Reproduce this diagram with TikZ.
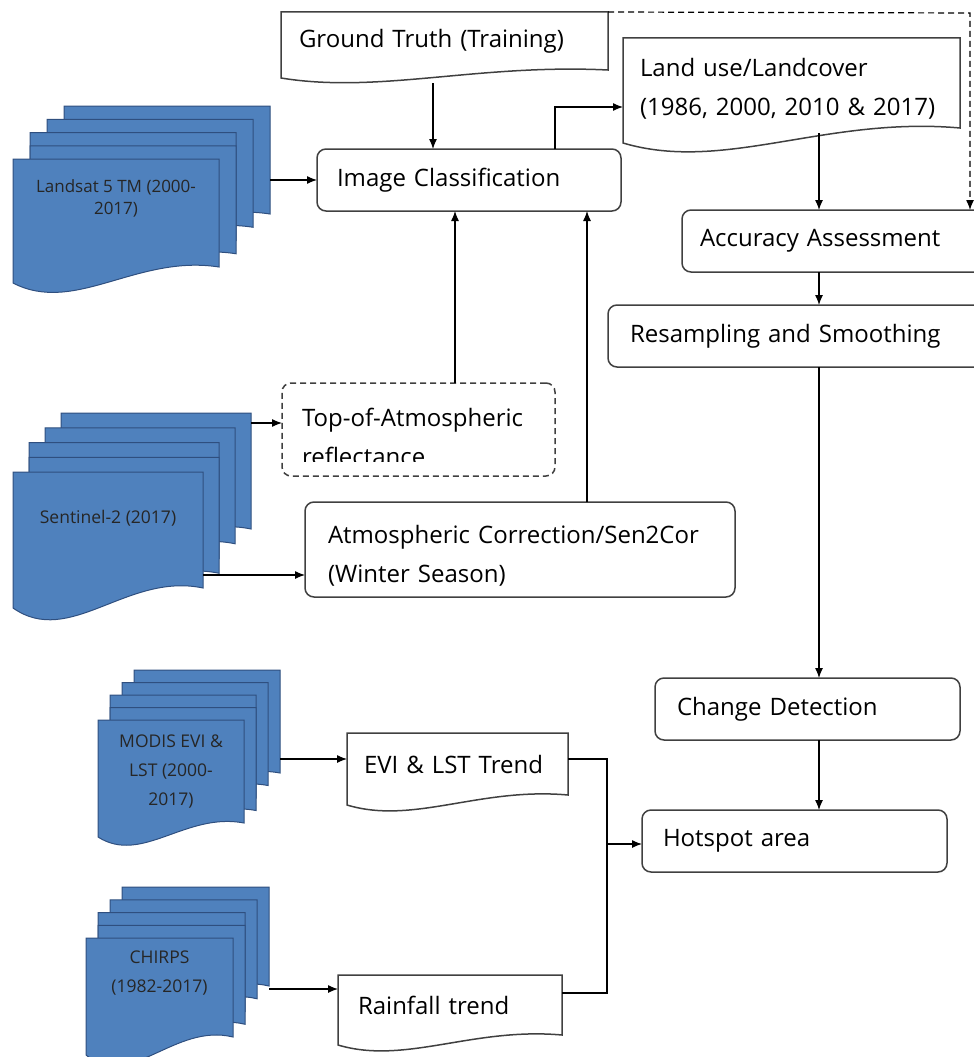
\documentclass[tikz,border=0pt]{standalone}
\usepackage{fontspec}
\setmainfont{Open Sans}
\usetikzlibrary{arrows.meta,calc}

\definecolor{sheetblue}{HTML}{4F81BD}
\definecolor{sheetedge}{HTML}{2F4F7F}
\definecolor{boxline}{HTML}{404040}

% outline of a document shape round a node: #2 node, #3 dip of the wavy bottom
\newcommand{\docshape}[3][]{%
  \draw[#1] (#2.north west) -- (#2.north east) -- (#2.south east)
    .. controls ($(#2.south west)!0.6!(#2.south east)+(0,-0.8*#3)$)
    and ($(#2.south west)!0.3!(#2.south east)+(0,3*#3)$)
    .. ($(#2.south west)+(0,#3)$) -- cycle;}

% stack of five blue sheets: name, x, y, width, height, step x, step y, dip
\newcommand{\sheetstack}[8]{%
  \foreach \k/\i in {4/3,3/2,2/1,1/1,0/0}{
    \node[sheet, minimum width=#4, minimum height=#5] (#1\k) at (#2+\i*#6, #3-\k*#7) {};
    \docshape[sheetline]{#1\k}{#8}
  }}

% strut that pushes a two-line label down a little
\newcommand{\toplift}[1]{\rule{0pt}{#1pt}}

\begin{document}
\begin{tikzpicture}[x=1pt, y=-1pt,
    box/.style={draw=boxline, line width=1.5pt, rounded corners=9pt, anchor=north west,
      align=left, inner xsep=20pt, inner ysep=0pt, outer sep=0pt, font=\fontsize{24}{39}\selectfont},
    doc/.style={anchor=north west, align=left, inner xsep=20pt, inner ysep=0pt, outer sep=0pt,
      font=\fontsize{24}{39}\selectfont},
    docline/.style={draw=boxline, line width=1.5pt},
    sheet/.style={anchor=north west, inner sep=0pt, outer sep=0pt},
    sheetline/.style={draw=sheetedge, line width=1pt, fill=sheetblue},
    sheettext/.style={anchor=north, align=center, inner sep=0pt, text=black!85,
      font=\fontsize{17.5}{29}\selectfont},
    arr/.style={-{Latex[length=10pt,width=8pt]}, line width=1.2pt},
    link/.style={line width=1.2pt},
    dashbox/.style={box, dash pattern=on 6pt off 4pt},
  ]
  \useasboundingbox (0,0) rectangle (974,1057);
  \clip (0,0) rectangle (974,1057);

  % data stacks
  \sheetstack{landsat}{13}{159}{206}{108}{17}{13.25}{16}
  \node[sheettext, font=\fontsize{17}{22}\selectfont] (landsattext) at ($(landsat0.north)+(0,20)$) {Landsat 5 TM (2000-\\2017)};
  \sheetstack{sentinel}{13}{472}{190}{116}{16}{14.75}{20}
  \node[sheettext] (sentineltext) at ($(sentinel0.north)+(0,38)$) {Sentinel-2 (2017)};
  \sheetstack{modis}{98}{720}{146}{103}{12}{12.5}{14}
  \node[sheettext] (modistext) at ($(modis0.north)+(0,15)$) {MODIS EVI \&\\LST (2000-\\2017)};
  \sheetstack{chirps}{86}{938}{147}{99}{12}{12.75}{18}
  \node[sheettext] (chirpstext) at ($(chirps0.north)+(0,13)$) {CHIRPS\\(1982-2017)};

  % process boxes
  \node[doc, text width=291pt, minimum height=58pt, inner xsep=18pt] (truth) at (281,12) {Ground Truth (Training)};
  \docshape[docline]{truth}{8}
  \node[box, text width=264pt, minimum height=62pt] (classify) at (317,149) {Image Classification};
  \node[doc, text width=303pt, minimum height=90pt, inner xsep=17pt] (landuse) at (623,38) {\toplift{30}Land use/Landcover\\(1986, 2000, 2010 \& 2017)};
  \docshape[docline]{landuse}{15}
  \node[box, text width=274pt, minimum height=62pt, inner xsep=18pt] (accuracy) at (682,210) {Accuracy Assessment};
  \node[box, text width=336pt, minimum height=62pt, inner xsep=22pt] (resamp) at (608,305) {Resampling and Smoothing};
  \node[dashbox, text width=233pt, minimum height=93pt] (toa) at (282,383) {\toplift{34}Top-of-Atmospheric\\reflectance};
  \fill[white] (290,461.5) rectangle (547,474.5);
  \node[box, text width=384pt, minimum height=95pt, inner xsep=23pt] (atmos) at (305,502) {\toplift{30}Atmospheric Correction/Sen2Cor\\(Winter Season)};
  \node[box, text width=261pt, minimum height=62pt, inner xsep=22pt] (change) at (655,678) {Change Detection};
  \node[box, text width=263pt, minimum height=62pt, inner xsep=21pt] (hotspot) at (642,810) {Hotspot area};
  \node[doc, text width=187pt, minimum height=62pt, inner xsep=17pt] (evi) at (347,733) {EVI \& LST Trend};
  \docshape[docline]{evi}{10}
  \node[doc, text width=184pt, minimum height=60pt] (rain) at (338,975) {Rainfall trend};
  \docshape[docline]{rain}{10}

  % connectors
  \coordinate (spine) at (819,0);
  \coordinate (corner) at (970,13);
  \coordinate (join) at (607,844);
  \coordinate (toain) at ($(toa.west)+(0,-6.5)$);
  \coordinate (atmosin) at ($(atmos.west)+(0,25.5)$);
  \coordinate (eviin) at ($(evi.west)+(0,-5)$);
  \coordinate (rainin) at ($(rain.west)+(0,-16)$);

  \draw[arr] ($(truth.south)+(-11.5,13)$) -- ($(classify.north)+(-36,0)$);
  \draw[arr] (landsat4.east |- classify.west) -- (classify.west);
  \draw[arr] ($(classify.north)+(86,0)$) |- ($(landuse.west)+(0,24)$);
  \draw[arr] ($(toa.north)+(36.5,0)$) -- ($(classify.south)+(-14,0)$);
  \draw[arr] ($(atmos.north)+(67,0)$) -- ($(classify.south)+(118,0)$);
  \draw[arr] (sentinel4.east |- toain) -- (toain);
  \draw[arr] (sentinel0.east |- atmosin) -- (atmosin);
  \draw[arr] ($(spine |- landuse.south)+(0,5)$) -- (spine |- accuracy.north);
  \draw[arr, dash pattern=on 6pt off 4pt] (truth.north east) -- (corner) -- (corner |- accuracy.north);
  \draw[arr] (spine |- accuracy.south) -- (spine |- resamp.north);
  \draw[arr] (spine |- resamp.south) -- (spine |- change.north);
  \draw[arr] (spine |- change.south) -- (spine |- hotspot.north);
  \draw[arr] (modis4.east |- eviin) -- (eviin);
  \draw[arr] (chirps4.east |- rainin) -- (rainin);
  \draw[link] ($(evi.east)+(0,-5)$) -| (join);
  \draw[link] ($(rain.east)+(0,-12)$) -| (join);
  \draw[arr] (join) -- (join -| hotspot.west);
\end{tikzpicture}
\end{document}
